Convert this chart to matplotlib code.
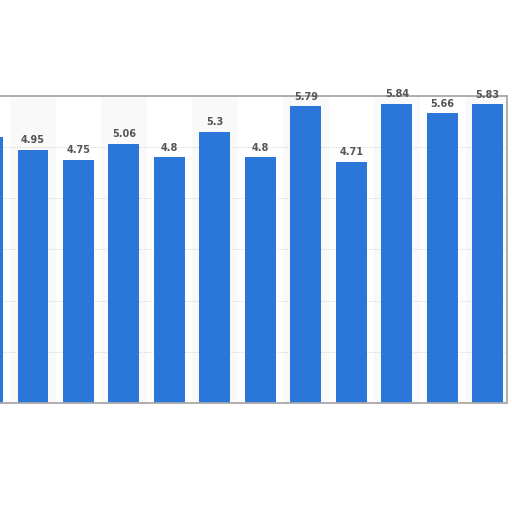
import numpy as np
import matplotlib.pyplot as plt

# values, first bar is cut off by the left edge (its label is hidden)
values = [5.2, 4.95, 4.75, 5.06, 4.8, 5.3, 4.8, 5.79, 4.71, 5.84, 5.66, 5.83]
labels = ['', '4.95', '4.75', '5.06', '4.8', '5.3', '4.8', '5.79', '4.71', '5.84', '5.66', '5.83']
grid_vals = [1, 2, 3, 4, 5]

x = np.arange(len(values))

fig = plt.figure(figsize=(5.12, 5.12), dpi=100)
ax = fig.add_axes([0.0, 0.213, 0.99, 0.6])

# faint alternating column shading
for i in x:
    if i % 2 == 1:
        ax.axvspan(i - 0.5, i + 0.5, color='#f9f9f9', zorder=0, lw=0)

for g in grid_vals:
    ax.axhline(g, color='#cfcfcf', lw=0.7, ls=(0, (1, 1.5)), zorder=1)

bars = ax.bar(x, values, width=0.68, color='#2b76d9', zorder=2)

for xi, v, lab in zip(x, values, labels):
    ax.text(xi, v + 0.09, lab, ha='center', va='bottom', fontsize=7,
            fontweight='bold', color='#555555', clip_on=False, zorder=3)

ax.set_xlim(0.275, 11.42)
ax.set_ylim(0, 6)
ax.set_xticks([])
ax.set_yticks([])
for side in ['top', 'bottom', 'right', 'left']:
    ax.spines[side].set_color('#a8a8a8')
    ax.spines[side].set_linewidth(1.3)
ax.spines['left'].set_visible(False)

plt.savefig('out.png', dpi=100)
